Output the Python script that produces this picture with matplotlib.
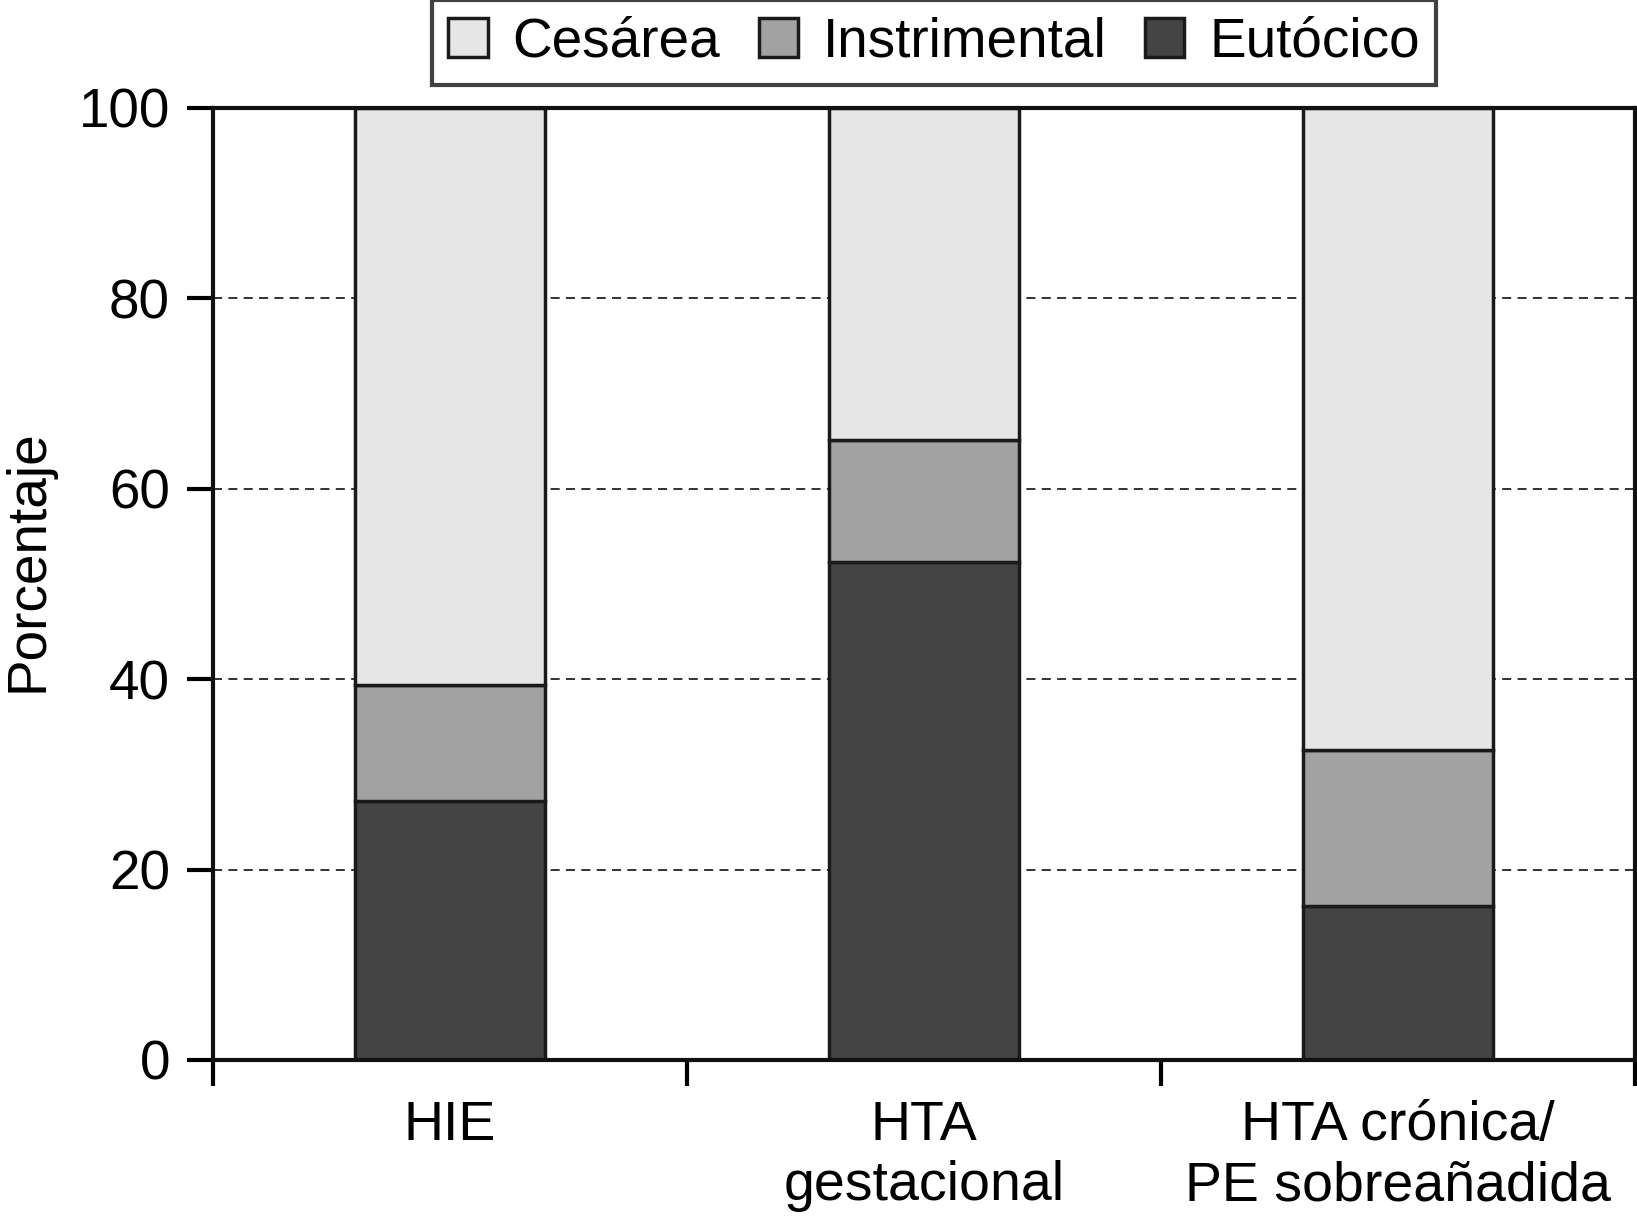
import numpy
import matplotlib.pyplot as plt
from matplotlib.patches import Patch

# 数据
categorias = ['HIE', 'HTA\ngestacional', 'HTA crónica/\nPE sobreañadida']
eutocico = [27.2, 52.3, 16.2]
instrimental = [12.2, 12.8, 16.4]
cesarea = [60.6, 34.9, 67.4]

series_names = ['Cesárea', 'Instrimental', 'Eutócico']
colores = ['#e6e6e6', '#a2a2a2', '#444444']

plt.rcParams['font.family'] = ['Liberation Sans', 'DejaVu Sans']
fs = 39.5

fig = plt.figure(figsize=(16.37, 12.21), dpi=100)
ax = fig.add_axes([213 / 1637, 1 - 1060 / 1221, (1635 - 213) / 1637, (1060 - 108) / 1221])

x = numpy.arange(len(categorias)) + 0.5
w = 0.4
edge = dict(edgecolor='#1a1a1a', linewidth=2.5)
ax.bar(x, eutocico, w, color=colores[2], **edge)
ax.bar(x, instrimental, w, bottom=eutocico, color=colores[1], **edge)
bottom2 = numpy.array(eutocico) + numpy.array(instrimental)
ax.bar(x, cesarea, w, bottom=bottom2, color=colores[0], **edge)

ax.set_xlim(0, 3)
ax.set_ylim(0, 100)
ax.set_yticks(range(0, 101, 20))
ax.set_xticks([0, 1, 2, 3])
ax.set_xticklabels([])
ax.set_xticks(x, minor=True)
ax.set_xticklabels(categorias, minor=True, fontsize=fs + 0.5, linespacing=1.2)

ax.tick_params(axis='x', which='major', direction='out', length=19, width=3)
ax.tick_params(axis='x', which='minor', length=0, pad=29)
ax.tick_params(axis='y', direction='out', length=19, width=3, labelsize=fs, pad=12)

for s in ax.spines.values():
    s.set_linewidth(3)
    s.set_color('#111111')

# líneas de rejilla punteadas
ax.set_axisbelow(True)
ax.yaxis.grid(True, linestyle=(0, (5, 3.5)), color='#222222', linewidth=1.3)

fig.text(29 / 1637, 1 - 561 / 1221, 'Porcentaje', rotation=90,
         ha='center', va='center', fontsize=fs)

handles = [Patch(facecolor=c, edgecolor='#1a1a1a', linewidth=2.5) for c in colores]
leg = fig.legend(handles, series_names, loc='upper center', ncol=3,
                 bbox_to_anchor=(934 / 1637, 1.0), bbox_transform=fig.transFigure,
                 fontsize=fs, frameon=True, fancybox=False, borderaxespad=0,
                 handlelength=0.72, handleheight=0.72, handletextpad=0.45,
                 columnspacing=0.7, borderpad=0.3)
leg.get_frame().set_edgecolor('#111111')
leg.get_frame().set_linewidth(3)

fig.savefig('out.png', dpi=100)
